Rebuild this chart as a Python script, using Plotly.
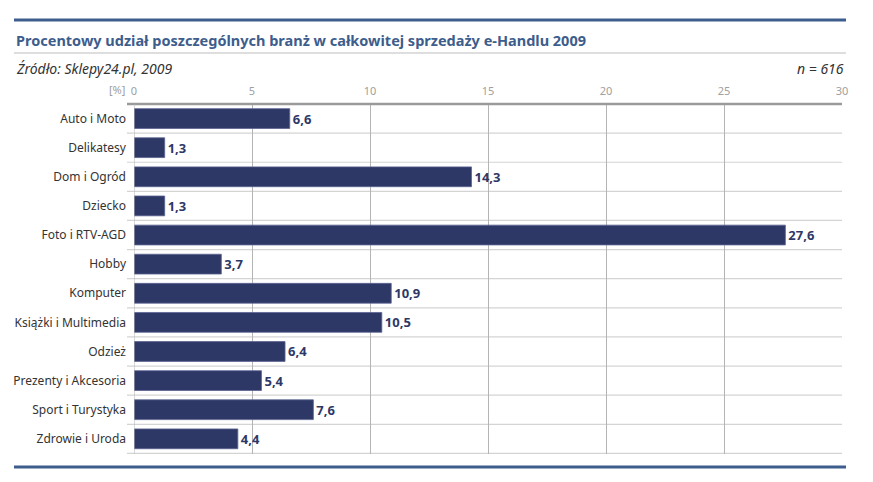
import plotly.graph_objects as go

categories = ["Auto i Moto", "Delikatesy", "Dom i Ogród", "Dziecko", "Foto i RTV-AGD",
              "Hobby", "Komputer", "Książki i Multimedia", "Odzież", "Prezenty i Akcesoria",
              "Sport i Turystyka", "Zdrowie i Uroda"]
values = [6.6, 1.3, 14.3, 1.3, 27.6, 3.7, 10.9, 10.5, 6.4, 5.4, 7.6, 4.4]
tick_vals = [0, 5, 10, 15, 20, 25, 30]
labels = [f"{v:.1f}".replace(".", ",") for v in values]

W, H = 873, 482
L, R, T, B = 134, 31, 104, 28

fig = go.Figure(go.Bar(
    x=values, y=categories, orientation="h",
    marker=dict(color="#2e3867", line=dict(color="#5a6390", width=0.8)),
    width=0.68,
    text=labels, textposition="outside",
    textfont=dict(family="Noto Sans", size=13, color="#2e3867", weight="bold"),
    cliponaxis=False,
))

px = lambda x: (x - L) / (W - L - R)
py = lambda y: 1 - (y - T) / (H - T - B)

shapes = []
for i in range(len(categories)):
    shapes.append(dict(type="line", xref="paper", yref="y", x0=px(127), x1=1,
                       y0=i + 0.5, y1=i + 0.5, line=dict(color="#d4d4d4", width=1.2), layer="below"))
shapes.append(dict(type="line", xref="paper", yref="paper", x0=px(127), x1=1, y0=1, y1=1,
                   line=dict(color="#9a9a9a", width=2.5)))
shapes.append(dict(type="line", xref="paper", yref="paper", x0=px(14), x1=px(846), y0=py(20), y1=py(20),
                   line=dict(color="#3d5d8c", width=3)))
shapes.append(dict(type="line", xref="paper", yref="paper", x0=px(14), x1=px(846), y0=py(53), y1=py(53),
                   line=dict(color="#bdbdbd", width=1)))
shapes.append(dict(type="line", xref="paper", yref="paper", x0=px(14), x1=px(846), y0=py(467), y1=py(467),
                   line=dict(color="#3d5d8c", width=3)))
shapes.append(dict(type="line", xref="x", yref="paper", x0=0, x1=0, y0=0, y1=1,
                   line=dict(color="#b4b4b4", width=1)))

annotations = [
    dict(text="<b>Procentowy udział poszczególnych branż w całkowitej sprzedaży e-Handlu 2009</b>",
         xref="paper", yref="paper", x=px(14), y=py(40), xanchor="left", yanchor="middle",
         showarrow=False, font=dict(family="Noto Sans", size=14.5, color="#3d5d8c")),
    dict(text="<i>Źródło: Sklepy24.pl, 2009</i>",
         xref="paper", yref="paper", x=px(14), y=py(68), xanchor="left", yanchor="middle",
         showarrow=False, font=dict(family="Noto Sans", size=14, color="#333333")),
    dict(text="<i>n = 616</i>",
         xref="paper", yref="paper", x=px(846), y=py(68), xanchor="right", yanchor="middle",
         showarrow=False, font=dict(family="Noto Sans", size=14, color="#333333")),
    dict(text="[%]", xref="paper", yref="paper", x=px(127), y=py(90), xanchor="right", yanchor="middle",
         showarrow=False, font=dict(family="Noto Sans", size=11, color="#a0a0a0")),
]

fig.update_layout(
    width=W, height=H,
    margin=dict(l=L, r=R, t=T, b=B),
    paper_bgcolor="white", plot_bgcolor="white",
    showlegend=False,
    shapes=shapes, annotations=annotations,
    xaxis=dict(side="top", range=[0, 30], tickvals=tick_vals, ticktext=[str(t) for t in tick_vals],
               showgrid=True, gridcolor="#b4b4b4", gridwidth=1, zeroline=False,
               showline=False, ticks="", ticklabelstandoff=6,
               tickfont=dict(family="Noto Sans", size=11, color="#a0a0a0")),
    yaxis=dict(autorange="reversed", showgrid=False, zeroline=False, showline=False,
               ticks="", ticklabelstandoff=7,
               tickfont=dict(family="Noto Sans", size=12, color="#333333")),
)

fig.write_html("out.html", config={"displayModeBar": False},
               post_script="document.body.style.margin='0';document.body.style.overflow='hidden';")
